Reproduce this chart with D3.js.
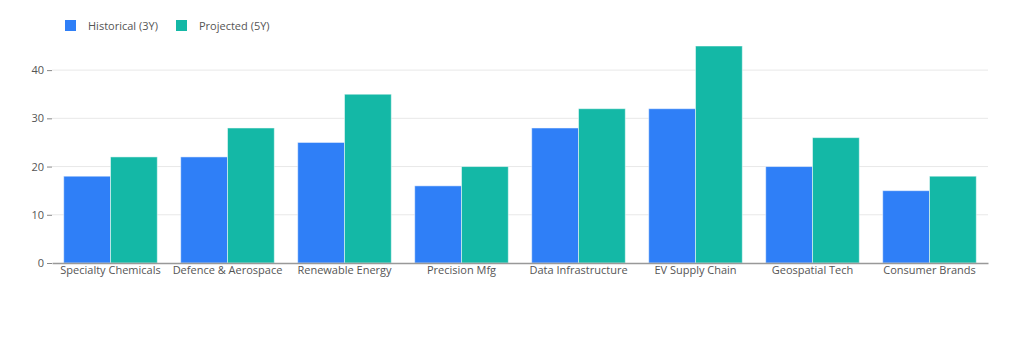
<!DOCTYPE html>
<html>
<head>
<meta charset="utf-8">
<script src="https://cdn.jsdelivr.net/npm/d3@7"></script>
<style>
  body { margin: 0; background: #fff; }
  text { font-family: "Open Sans", "Noto Sans", sans-serif; }
</style>
</head>
<body>
<svg id="chart"></svg>
<script>
//chart data
const sectors = ["Specialty Chemicals", "Defence & Aerospace", "Renewable Energy", "Precision Mfg",
    "Data Infrastructure", "EV Supply Chain", "Geospatial Tech", "Consumer Brands"];
const historical = [18, 22, 25, 16, 28, 32, 20, 15];
const projected = [22, 28, 35, 20, 32, 45, 26, 18];
const seriesNames = ["Historical (3Y)", "Projected (5Y)"];
const yTicks = [0, 10, 20, 30, 40];

const width = 1024, height = 351;
const margin = { top: 46, right: 36, bottom: 88, left: 52 };
const colors = ["#2f7ff7", "#14b8a6"];

const svg = d3.select("#chart")
    .attr("width", width)
    .attr("height", height);

//scales
const x = d3.scaleBand()
    .domain(sectors)
    .range([margin.left, width - margin.right])
    .paddingInner(0.2)
    .paddingOuter(0.1);

const xSub = d3.scaleBand()
    .domain(seriesNames)
    .range([0, x.bandwidth()]);

const y = d3.scaleLinear()
    .domain([0, 45])
    .range([height - margin.bottom, margin.top]);

//gridlines
svg.append("g")
    .selectAll("line")
    .data(yTicks.filter(d => d > 0))
    .join("line")
    .attr("x1", margin.left)
    .attr("x2", width - margin.right)
    .attr("y1", d => y(d))
    .attr("y2", d => y(d))
    .attr("stroke", "#e8e8e8")
    .attr("stroke-width", 1);

//y axis
const yAxis = svg.append("g")
    .attr("transform", `translate(${margin.left},0)`)
    .call(d3.axisLeft(y).tickValues(yTicks).tickSize(5).tickPadding(3));
yAxis.select(".domain").remove();
yAxis.selectAll(".tick line").attr("stroke", "#888");
yAxis.selectAll("text").attr("fill", "#555").style("font-size", "11px");

//bars
const rows = sectors.map((s, i) => ({ sector: s, values: [historical[i], projected[i]] }));

svg.append("g")
    .selectAll("g")
    .data(rows)
    .join("g")
    .attr("transform", d => `translate(${x(d.sector)},0)`)
    .selectAll("rect")
    .data(d => d.values.map((v, j) => ({ name: seriesNames[j], value: v, color: colors[j] })))
    .join("rect")
    .attr("x", d => xSub(d.name))
    .attr("y", d => y(d.value))
    .attr("width", xSub.bandwidth())
    .attr("height", d => y(0) - y(d.value))
    .attr("fill", d => d.color)
    .attr("stroke", "#ffffff")
    .attr("stroke-opacity", 0.5)
    .attr("stroke-width", 1);

//x axis
const xAxis = svg.append("g")
    .attr("transform", `translate(0,${y(0)})`)
    .call(d3.axisBottom(x).tickSize(0).tickPadding(3));
xAxis.select(".domain").attr("stroke", "#999").attr("stroke-width", 1.5);
xAxis.selectAll("text").attr("fill", "#555").style("font-size", "11px");

//legend
const legend = svg.append("g")
    .selectAll("g")
    .data(seriesNames)
    .join("g")
    .attr("transform", (d, i) => `translate(${65 + i * 111},20)`);

legend.append("rect")
    .attr("width", 11)
    .attr("height", 11)
    .attr("fill", (d, i) => colors[i]);

legend.append("text")
    .attr("x", 23)
    .attr("y", 9.5)
    .attr("fill", "#555")
    .style("font-size", "11px")
    .text(d => d);
</script>
</body>
</html>
